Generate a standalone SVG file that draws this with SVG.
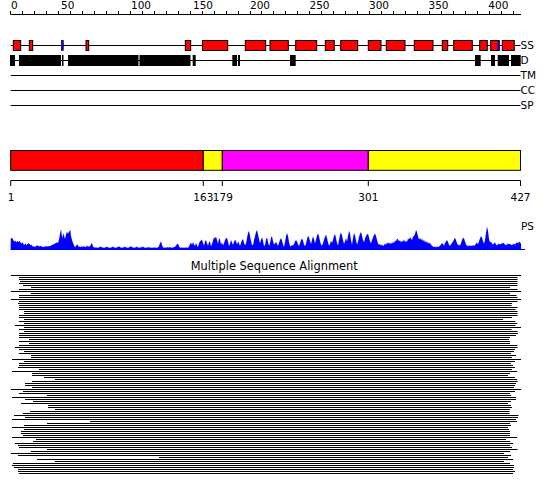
<svg xmlns="http://www.w3.org/2000/svg" width="550" height="495" viewBox="0 0 550 495">
<style>
text{font-family:"DejaVu Sans","Liberation Sans",sans-serif;fill:#000}
.lab{font-size:10.5px}
.ttl{font-size:11.4px}
.ln{stroke:#000;stroke-width:1;fill:none}
.ss{fill:#ff0000;stroke:#000;stroke-width:1}
.ssb{fill:#0000ff;stroke:#000;stroke-width:0.6}
.dd{fill:#000}
.msa rect{fill:#000}
</style>
<rect width="550" height="495" fill="#fff"/>
<g id="ruler">
<line class="ln" x1="10.7" y1="14.5" x2="521" y2="14.5"/>
<path class="ln" d="M10.5 11V14.5M22.5 11V14.5M34.5 11V14.5M46.5 11V14.5M58.5 11V14.5M70.5 11V14.5M82.5 11V14.5M94.5 11V14.5M106.5 11V14.5M118.5 11V14.5M130.5 11V14.5M142.5 11V14.5M154.5 11V14.5M166.5 11V14.5M178.5 11V14.5M190.5 11V14.5M202.5 11V14.5M214.5 11V14.5M226.5 11V14.5M238.5 11V14.5M250.5 11V14.5M261.5 11V14.5M273.5 11V14.5M285.5 11V14.5M297.5 11V14.5M309.5 11V14.5M321.5 11V14.5M333.5 11V14.5M345.5 11V14.5M357.5 11V14.5M369.5 11V14.5M381.5 11V14.5M393.5 11V14.5M405.5 11V14.5M417.5 11V14.5M429.5 11V14.5M441.5 11V14.5M453.5 11V14.5M465.5 11V14.5M477.5 11V14.5M489.5 11V14.5M501.5 11V14.5M513.5 11V14.5"/>
<text class="lab" x="11" y="9.3">0</text>
<text class="lab" x="61" y="9.3">50</text>
<text class="lab" x="131" y="9.3">100</text>
<text class="lab" x="193" y="9.3">150</text>
<text class="lab" x="250" y="9.3">200</text>
<text class="lab" x="309.5" y="9.3">250</text>
<text class="lab" x="369" y="9.3">300</text>
<text class="lab" x="428.5" y="9.3">350</text>
<text class="lab" x="488.3" y="9.3">400</text>
</g>
<g id="track-SS">
<line class="ln" x1="10.7" y1="45.5" x2="520.5" y2="45.5"/>
<rect class="ss" x="13.3" y="40.5" width="7.4" height="10"/>
<rect class="ss" x="29.3" y="40.5" width="3.4" height="10"/>
<rect class="ssb" x="61.3" y="40.5" width="2" height="10"/>
<rect class="ss" x="86" y="40.5" width="2.7" height="10"/>
<rect class="ss" x="185.3" y="40.5" width="5.4" height="10"/>
<rect class="ss" x="202.5" y="40.5" width="25.2" height="10"/>
<rect class="ss" x="245.3" y="40.5" width="20.4" height="10"/>
<rect class="ss" x="270" y="40.5" width="18.3" height="10"/>
<rect class="ss" x="295.7" y="40.5" width="21" height="10"/>
<rect class="ss" x="325.3" y="40.5" width="9" height="10"/>
<rect class="ss" x="340.7" y="40.5" width="17" height="10"/>
<rect class="ss" x="368.3" y="40.5" width="12.7" height="10"/>
<rect class="ss" x="386.3" y="40.5" width="18.7" height="10"/>
<rect class="ss" x="414.3" y="40.5" width="18.7" height="10"/>
<rect class="ss" x="442.3" y="40.5" width="5.4" height="10"/>
<rect class="ss" x="453.7" y="40.5" width="18.6" height="10"/>
<rect class="ss" x="479.7" y="40.5" width="7.6" height="10"/>
<rect class="ss" x="490.7" y="40.5" width="8.6" height="10"/>
<rect fill="#0000ff" x="497.5" y="41" width="1.5" height="9"/>
<rect class="ss" x="502.3" y="40.5" width="12" height="10"/>
<text class="lab" x="520.5" y="48.7">SS</text>
</g>
<g id="track-D">
<line class="ln" x1="10.7" y1="60.5" x2="520.5" y2="60.5"/>
<rect class="dd" x="10" y="55" width="5" height="11"/>
<rect class="dd" x="19" y="55" width="42" height="11"/>
<rect class="dd" x="62" y="55" width="1.5" height="11"/>
<rect class="dd" x="68" y="55" width="70.5" height="11"/>
<rect class="dd" x="139.5" y="55" width="51" height="11"/>
<rect class="dd" x="192.7" y="55" width="3" height="11"/>
<rect class="dd" x="232.3" y="55" width="4.7" height="11"/>
<rect class="dd" x="238" y="55" width="2" height="11"/>
<rect class="dd" x="290" y="55" width="5.7" height="11"/>
<rect class="dd" x="475" y="55" width="5.7" height="11"/>
<rect class="dd" x="491" y="55" width="4" height="11"/>
<rect class="dd" x="497.7" y="55" width="11.3" height="11"/>
<rect class="dd" x="511" y="55" width="9.7" height="11"/>
<text class="lab" x="520.5" y="64">D</text>
</g>
<g id="track-TM">
<line class="ln" x1="10.7" y1="75.5" x2="520.5" y2="75.5"/>
<text class="lab" x="520.5" y="79.3">TM</text>
</g>
<g id="track-CC">
<line class="ln" x1="10.7" y1="90.5" x2="520.5" y2="90.5"/>
<text class="lab" x="520.5" y="94.3">CC</text>
</g>
<g id="track-SP">
<line class="ln" x1="10.7" y1="105.5" x2="520.5" y2="105.5"/>
<text class="lab" x="520.5" y="109.3">SP</text>
</g>
<g id="domains">
<rect x="10.7" y="150.5" width="192.6" height="19.8" fill="#ff0000" stroke="#000"/>
<rect x="203.3" y="150.5" width="19" height="19.8" fill="#ffff00" stroke="#000"/>
<rect x="222.3" y="150.5" width="146" height="19.8" fill="#ff00ff" stroke="#000"/>
<rect x="368.3" y="150.5" width="152.2" height="19.8" fill="#ffff00" stroke="#000"/>
</g>
<g id="domain-axis">
<line class="ln" x1="10.7" y1="180.5" x2="520.5" y2="180.5"/>
<path class="ln" d="M10.7 180.5V186M203.3 180.5V186M222.3 180.5V186M368.3 180.5V186M520.5 180.5V186"/>
<text class="lab" x="11" y="200.5" text-anchor="middle">1</text>
<text class="lab" x="203.3" y="200.5" text-anchor="middle">163</text>
<text class="lab" x="222.8" y="200.5" text-anchor="middle">179</text>
<text class="lab" x="368.3" y="200.5" text-anchor="middle">301</text>
<text class="lab" x="520.5" y="200.5" text-anchor="middle">427</text>
</g>
<g id="ps-plot">
<path fill="#0000ff" d="M10.7,250 L10.7,239 11.5,237.8 12.5,238.5 13.5,240.5 14.5,241.5 15.5,240.8 16.5,242.3 17.5,241 18.5,242 19.5,240.8 20.5,242.6 21.5,243.4 22.5,242.3 23.5,244.3 24.5,244.8 25.5,243.5 26.5,245.2 27.5,244 28.5,243.2 29.5,243.8 30.5,245.3 31.5,244.8 32.5,246.2 34,246.4 35,247 36,246 37,245.4 38,245.6 39,246.8 40,245.7 41,246 42,247 43,246.5 44,247.2 45,246.2 46,246.6 48,246.3 50,246.2 51,245.6 52,245 53,244.6 54,244.2 55,243.6 56,243 57,242.2 58,243 59,239.5 60,234 61,229 61.8,235 62.5,238 63.5,233 64.3,236.5 65,239 66,234.5 67,231.5 67.8,234 68.5,232.5 69.5,231 70.3,230 71,236 72,240 73,243 74,245.3 75,247 76,246.2 77,244.2 78,245.6 79,247 80,246.4 81,247.2 82,246.1 83,247 84,246.1 85,247.2 86,246.6 87,245.6 88,247 89,246.2 90,246.6 91,244.2 92,243 93,246.4 94,247.6 96,247.4 98,247.7 100,247 101,246.5 102,247.5 104,247.8 106,247.3 107,246.6 108,247.6 110,247.8 112,247.2 113,246.4 114,247.5 116,247.8 118,247 119,246.2 120,247.3 122,247.7 124,247.2 125,246.5 126,247.6 128,247.8 130,247.1 131,246 132,247.2 134,247.7 136,247.2 137,246.6 138,247.8 140,247.6 142,247.2 143,246.6 144,247.6 146,247.8 148,247.3 150,247.6 152,247.8 154,247.4 156,247.7 158,247.6 159,246 160,243 161,241.5 162,245 163,247.6 165,247.8 167,247.3 169,247.6 170,247 171,247.7 173,247.5 175,246.8 176,245.5 177,244.2 178,243.8 179,246 180,247.8 182,247.6 184,247.8 186,247.5 188,247.7 189,246.5 190,244 191,242.5 192,245 193,242 194,244.5 195,246 196,242.8 197,245.5 198,247 199,243.5 200,241.2 201,240.5 202,239.5 203,243 204,245.8 205,241.5 206,240 207,243.2 208,245.5 209,242 210,241.5 211,246.6 212,244 213,240.5 214,237.2 215,238.5 216,236.5 217,240 218,244 219,238 220,239.8 221,244.6 222,242.2 223,245.5 224,243.2 225,240 226,238.2 227,238 228,241.5 229,246 230,244 231,240 232,242.5 233,245 234,242 235,239.8 236,241 237,244.5 238,241.6 239,243.6 240,246 241,243 242,240.3 243,239 244,242.8 245,245.2 246,243.5 247,238 248,233 249,231 250,236 251,241 252,244.5 253,245.5 254,240 255,236.5 256,232 257,230 258,234.5 259,239 260,243.5 261,240 262,237.2 263,240.8 264,246.2 265,245 266,239.5 267,237.5 268,242 269,246 270,243.5 271,237.4 272,236.5 273,241 274,244.5 275,243.5 276,241.8 277,244 278,246 279,243 280,240 281,238 282,240.5 283,244.6 284,247 285,242 286,236.5 287,233 288,236 289,242 290,245.8 291,246.5 292,244.8 293,245.5 294,244 295,241.5 296,240 297,241.4 298,244.2 299,246 300,243.5 301,240 302,238.5 303,240.8 304,244.5 305,246.2 306,243.5 307,239 308,235.8 309,237.5 310,241 311,244 312,240 313,236.5 314,239 315,243.6 316,239.8 317,235.5 318,233.5 319,236.2 320,241 321,244.8 322,245.6 323,243.2 324,240 325,237 326,234.5 327,238 328,242.6 329,245.8 330,244 331,240.5 332,243 333,240 334,236 335,234 336,238.2 337,243 338,245.4 339,240 340,235 341,232.6 342,235.5 343,240 344,244 345,241.5 346,238 347,241.5 348,236 349,231 350,233.5 351,240 352,244.8 353,238 354,233 355,235.6 356,240.5 357,244.6 358,242 359,237 360,233.8 361,232 362,235.8 363,240 364,242.3 365,238.5 366,236 367,234.5 368,233.8 369,237.5 370,241.6 371,243.2 372,240 373,237.6 374,235 375,233.6 376,236 377,240 378,243.4 379,244.8 380,244 381,245.6 382,244.5 383,246 384,245.2 385,243.6 386,244.7 387,242.6 388,243.8 389,242.2 390,244.2 391,242.6 392,244 393,241.6 394,243.3 395,240.4 396,241.5 397,238.5 398,239.6 399,241.5 400,240 401,242.6 402,240.8 403,241.4 404,239.4 405,242.3 406,240.5 407,242 408,238.5 409,239.6 410,237.2 411,238.5 412,240 413,236.8 414,236 415,234 416,230 417,232 418,236.6 419,239.5 420,237.8 421,240.3 422,238.6 423,241.4 424,239.6 425,242.4 426,240.8 427,243.2 428,241.8 429,243.8 430,243 431,244.6 432,245.8 433,246.4 434,247 435,246.6 436,247.4 437,246.2 438,247 439,246.8 440,245.5 441,244.6 442,243 443,244.2 444,245.6 445,243 446,241.4 447,240 448,242 449,244.8 450,246 451,244.2 452,243 453,241.5 454,239.6 455,237.8 456,240.3 457,243.2 458,245.3 459,244.6 460,245.8 461,243.3 462,240 463,237.8 464,238.2 465,241.6 466,244.5 467,245.6 468,246.4 469,245 470,246.2 471,245.3 472,246.4 473,244.8 474,246 475,245 476,243.8 477,242.2 478,244.4 479,241.2 480,238.6 481,236.2 482,237.6 483,241.3 484,243.8 485,240 486,233 487,226.5 488,231 489,239 490,242.6 491,241.6 492,243.5 493,244.8 494,243.2 495,242.6 496,244.5 497,245.6 498,244.2 499,243.5 500,244.8 501,243.2 502,244 503,242.6 504,243.4 505,244.6 506,245.5 507,244.2 508,243.4 509,244.4 510,243.8 511,244.8 512,245.2 513,244.2 514,243.6 515,244.8 516,243.2 517,242.2 518,243.6 519,241.5 520,242.4 521,243.6 521,250 Z"/>
<line x1="10.7" y1="249.5" x2="525" y2="249.5" stroke="#0000ff" stroke-width="1"/>
<text class="lab" x="521" y="230">PS</text>
</g>
<g id="msa" class="msa">
<text class="ttl" x="274.2" y="270" text-anchor="middle">Multiple Sequence Alignment</text>
<rect x="11" y="275" width="510" height="1"/>
<rect x="19" y="277" width="498.5" height="1"/>
<rect x="19" y="279" width="498.5" height="1"/>
<rect x="20" y="281" width="497.5" height="1"/>
<rect x="19" y="283" width="498.5" height="1"/>
<rect x="23" y="285" width="494.5" height="1"/>
<rect x="31" y="287" width="479" height="1"/>
<rect x="19" y="289" width="498.5" height="1"/>
<rect x="11" y="291" width="510" height="1"/>
<rect x="31" y="293" width="479" height="1"/>
<rect x="19" y="295" width="497.5" height="1"/>
<rect x="19" y="297" width="498.5" height="1"/>
<rect x="11" y="299" width="510" height="1"/>
<rect x="19" y="301" width="498.5" height="1"/>
<rect x="18" y="303" width="494" height="1"/>
<rect x="19" y="305" width="492.5" height="1"/>
<rect x="19" y="307" width="498.5" height="1"/>
<rect x="19" y="309" width="496.5" height="1"/>
<rect x="24" y="311" width="493.5" height="1"/>
<rect x="24" y="313" width="493.5" height="1"/>
<rect x="19" y="315" width="498.5" height="1"/>
<rect x="19" y="317" width="493" height="1"/>
<rect x="24" y="319" width="479" height="1"/>
<rect x="19" y="321" width="496.5" height="1"/>
<rect x="24" y="323" width="493.5" height="1"/>
<rect x="15" y="325" width="500.5" height="1"/>
<rect x="24" y="327" width="497" height="1"/>
<rect x="19" y="329" width="492.5" height="1"/>
<rect x="24" y="331" width="493.5" height="1"/>
<rect x="19" y="333" width="499" height="1"/>
<rect x="19" y="335" width="497" height="1"/>
<rect x="19" y="337" width="491" height="1"/>
<rect x="29" y="339" width="480" height="1"/>
<rect x="19" y="341" width="491" height="1"/>
<rect x="29" y="343" width="481" height="1"/>
<rect x="19" y="345" width="498.5" height="1"/>
<rect x="15" y="347" width="502.5" height="1"/>
<rect x="19" y="349" width="496" height="1"/>
<rect x="24" y="351" width="490" height="1"/>
<rect x="19" y="353" width="492" height="1"/>
<rect x="31" y="355" width="485" height="1"/>
<rect x="31" y="357" width="481" height="1"/>
<rect x="12" y="359" width="509" height="1"/>
<rect x="24" y="361" width="491" height="1"/>
<rect x="19" y="363" width="492" height="1"/>
<rect x="19" y="365" width="494" height="1"/>
<rect x="18" y="367" width="497" height="1"/>
<rect x="39" y="369" width="473" height="1"/>
<rect x="12" y="371" width="505" height="1"/>
<rect x="32" y="373" width="478" height="1"/>
<rect x="32" y="375" width="476" height="1"/>
<rect x="44" y="377" width="471" height="1"/>
<rect x="55" y="379" width="462" height="1"/>
<rect x="32" y="381" width="485.5" height="1"/>
<rect x="25" y="383" width="491" height="1"/>
<rect x="25" y="385" width="490" height="1"/>
<rect x="32" y="387" width="482" height="1"/>
<rect x="11" y="389" width="510" height="1"/>
<rect x="23" y="391" width="492" height="1"/>
<rect x="19" y="393" width="491" height="1"/>
<rect x="47" y="395" width="464" height="1"/>
<rect x="12" y="397" width="504" height="1"/>
<rect x="25" y="399" width="491" height="1"/>
<rect x="33" y="401" width="478" height="1"/>
<rect x="21" y="403" width="487" height="1"/>
<rect x="48" y="405" width="463" height="1"/>
<rect x="48" y="407" width="464" height="1"/>
<rect x="55" y="409" width="455" height="1"/>
<rect x="30" y="411" width="479.5" height="1"/>
<rect x="23" y="413" width="486.5" height="1"/>
<rect x="14" y="415" width="504.5" height="1"/>
<rect x="25" y="417" width="493" height="1"/>
<rect x="12" y="419" width="504" height="1"/>
<rect x="90" y="421" width="427" height="1"/>
<rect x="47" y="423" width="463" height="1"/>
<rect x="24" y="425" width="487" height="1"/>
<rect x="12" y="427" width="496" height="1"/>
<rect x="24" y="429" width="485" height="1"/>
<rect x="21" y="431" width="489" height="1"/>
<rect x="21" y="433" width="489" height="1"/>
<rect x="23" y="435" width="487" height="1"/>
<rect x="12" y="437" width="505" height="1"/>
<rect x="36" y="439" width="470" height="1"/>
<rect x="33" y="441" width="477" height="1"/>
<rect x="15" y="443" width="498" height="1"/>
<rect x="18" y="445" width="492" height="1"/>
<rect x="19" y="447" width="493" height="1"/>
<rect x="47" y="449" width="470.5" height="1"/>
<rect x="31" y="451" width="479" height="1"/>
<rect x="11" y="453" width="493" height="1"/>
<rect x="18" y="455" width="493" height="1"/>
<rect x="159" y="457" width="349" height="1"/>
<rect x="37" y="459" width="476" height="1"/>
<rect x="55" y="461" width="449" height="1"/>
<rect x="13" y="463" width="497" height="1"/>
<rect x="12" y="465" width="502" height="1"/>
<rect x="14" y="467" width="500" height="1"/>
<rect x="18" y="469" width="495" height="1"/>
<rect x="18" y="471" width="497" height="1"/>
<rect x="19" y="473" width="494" height="1"/>
</g>
</svg>
